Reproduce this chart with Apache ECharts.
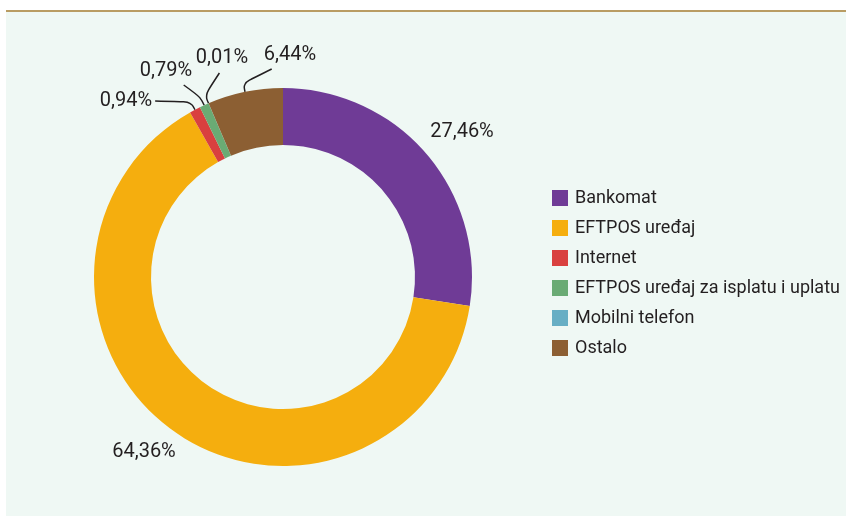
<!DOCTYPE html>
<html>
<head>
<meta charset="utf-8">
<script src="https://cdn.jsdelivr.net/npm/echarts@6/dist/echarts.min.js"></script>
<style>
  html, body { margin: 0; padding: 0; background: #fff; }
  #panel {
    position: absolute; left: 6px; top: 10px; width: 840px; height: 506px;
    background: #eff8f4; border-top: 2px solid #b99c63;
  }
  #chart { position: absolute; left: 0; top: 0; width: 846px; height: 516px; }
</style>
</head>
<body>
<div id="panel"></div>
<div id="chart"></div>
<script>
const categories = ['Bankomat', 'EFTPOS uređaj', 'Internet', 'EFTPOS uređaj za isplatu i uplatu', 'Mobilni telefon', 'Ostalo'];
const shares = [27.46, 64.36, 0.94, 0.79, 0.01, 6.44];
const labelTexts = ['27,46%', '64,36%', '0,94%', '0,79%', '0,01%', '6,44%'];
const colors = ['#6f3b96', '#f5ae0e', '#d9403f', '#6aab74', '#67aec4', '#8c5f33'];

// label centres, by slice
const labelSpots = [[462, 132], [144, 452], [126, 101], [166, 71], [222, 58], [290, 55]];
// where the leader line meets the label box: fraction across, fraction down, extra dx, dy
const lineEnds = [null, null, [1, 0.5, 3, 0], [0.8, 1, 2, 4], [0.45, 1, 0, 5], [0.15, 1, 0, 4]];

const font = 'Roboto, sans-serif';

const chart = echarts.init(document.getElementById('chart'), null, { renderer: 'canvas' });

const pieData = categories.map((name, i) => ({
  name: name,
  value: shares[i],
  itemStyle: { color: colors[i] },
  label: { formatter: labelTexts[i] },
  labelLine: { show: lineEnds[i] !== null }
}));

chart.setOption({
  backgroundColor: 'transparent',
  animation: false,
  legend: {
    orient: 'vertical',
    left: 552,
    top: 189,
    padding: 0,
    itemWidth: 16,
    itemHeight: 16,
    itemGap: 12,
    icon: 'rect',
    textStyle: { fontFamily: font, fontSize: 18, lineHeight: 16, color: '#231f20', padding: [0, 0, 0, 2] },
    data: categories
  },
  series: [{
    type: 'pie',
    center: [283, 277],
    radius: [132, 189],
    startAngle: 90,
    clockwise: true,
    avoidLabelOverlap: false,
    itemStyle: { borderWidth: 0 },
    label: {
      show: true,
      position: 'outside',
      fontFamily: font,
      fontSize: 20,
      color: '#231f20'
    },
    labelLine: {
      length: 9,
      length2: 10,
      smooth: 0.4,
      lineStyle: { color: '#231f20', width: 1.5 }
    },
    labelLayout: function (p) {
      const i = p.dataIndex;
      const s = labelSpots[i];
      const out = { x: s[0], y: s[1], align: 'center', verticalAlign: 'middle' };
      const e = lineEnds[i];
      if (e && p.labelLinePoints) {
        const w = p.labelRect.width, h = p.labelRect.height;
        const left = s[0] - w / 2, top = s[1] - h / 2;
        const end = [left + w * e[0] + e[2], top + h * e[1] + e[3]];
        out.labelLinePoints = [p.labelLinePoints[0], p.labelLinePoints[1], end];
      }
      return out;
    },
    data: pieData
  }]
});
</script>
</body>
</html>
